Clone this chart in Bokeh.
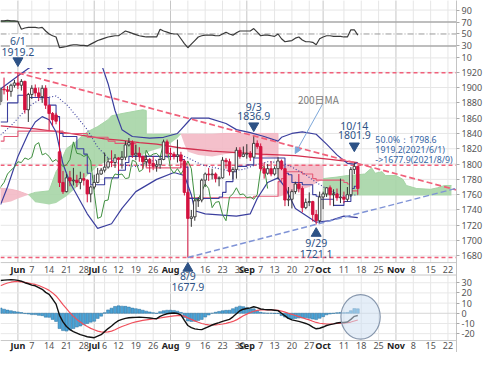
import numpy as np
import pandas as pd
from bokeh.plotting import figure
from bokeh.models import Range1d, FixedTicker, Label, Arrow, NormalHead
from bokeh.core.properties import value
from bokeh.embed import file_html
from bokeh.resources import INLINE

# ======================= DATA =======================
candle_first, candle_last = "2021-05-25", "2021-10-15"

opens = [1882,1898,1897,1895,1903,1906,1903,1908,1871,1891,
         1899,1893,1888,1899,1877,1866,1864,1816,1776,1764,
         1782,1778,1779,1776,1781,1779,1761,1770,1776,1787,
         1792,1796,1803,1802,1808,1806,1809,1825,1828,1812,
         1814,1810,1803,1806,1801,1797,1799,1806,1829,1814,
         1813,1810,1812,1804,1763,1729,1731,1752,1753,1779,
         1787,1786,1787,1781,1782,1805,1803,1790,1793,1818,
         1810,1813,1814,1809,1827,1823,1794,1788,1794,1787,
         1794,1804,1794,1753,1754,1764,1774,1768,1743,1750,
         1751,1734,1726,1757,1761,1769,1760,1761,1756,1757,
         1754,1760,1793,1797]
highs = [1900,1913,1902,1905,1910,1919.2,1911,1909,1893,1903,
         1904,1900,1903,1903,1877,1868,1867,1856,1791,1787,
         1791,1795,1786,1790,1788,1780,1772,1786,1795,1795,
         1815,1808,1818,1813,1809,1817,1830,1834,1831,1825,
         1822,1811,1812,1808,1810,1805,1810,1832,1832,1821,
         1816,1832,1816,1806,1767,1740,1754,1757,1781,1789,
         1795,1794,1789,1784,1809,1808,1807,1796,1822,1822,
         1823,1826,1817,1836.9,1831,1827,1802,1800,1804,1797,
         1809,1806,1795,1770,1767,1777,1787,1771,1755,1763,
         1752,1740,1764,1764,1770,1772,1767,1768,1781,1764,
         1770,1796,1801.9,1797]
lows = [1877,1891,1883,1888,1900,1898,1896,1866,1855,1885,
        1888,1883,1880,1872,1844,1850,1852,1770,1761,1763,
        1771,1772,1770,1767,1772,1750,1750,1767,1775,1786,
        1789,1794,1796,1795,1791,1794,1805,1823,1808,1805,
        1803,1794,1797,1789,1792,1790,1794,1805,1810,1805,
        1806,1802,1795,1759,1677.9,1718,1726,1744,1750,1770,
        1778,1780,1776,1771,1781,1794,1785,1780,1781,1807,
        1809,1807,1804,1808,1820,1791,1781,1786,1784,1785,
        1780,1792,1745,1745,1742,1761,1763,1737,1741,1745,
        1725,1721.1,1723,1741,1757,1746,1745,1752,1749,1749,
        1751,1757,1787,1760]
closes = [1898,1897,1895,1903,1906,1903,1908,1871,1891,1899,
          1893,1888,1899,1877,1866,1858,1856,1776,1764,1782,
          1778,1779,1776,1781,1779,1761,1770,1776,1787,1792,
          1796,1803,1802,1808,1806,1809,1825,1828,1812,1814,
          1810,1803,1806,1801,1797,1799,1806,1829,1814,1813,
          1810,1812,1804,1763,1729,1731,1752,1753,1779,1787,
          1786,1787,1781,1782,1805,1803,1790,1793,1818,1810,
          1813,1814,1809,1827,1823,1794,1788,1794,1787,1794,
          1804,1794,1753,1754,1764,1774,1768,1743,1750,1751,
          1734,1726,1757,1761,1769,1760,1761,1756,1757,1754,
          1760,1793,1797,1768]

rsi = [72,72,73,72,72,71,
       58,60,61,61,61,60,61,55,50,47,45,
       27,28,29,31,32,32,31,31,30,33,36,
       39,41,43,45,46,47,47,51,55,53,51,
       49,47,46,45,45,45,45,58,55,53,51,
       50,50,42,34,27,33,39,45,47,48,48,
       48,47,47,50,53,50,48,52,55,55,55,
       55,59,53,47,48,48,47,46,50,42,37,
       38,39,43,45,40,37,37,36,32,42,45,
       47,47,46,46,46,45,45,57,57,48]

macd = [32.2,32.5,32.8,33,32.8,32.3,
        31.5,30,29,27.7,27,25.3,23.5,20.5,18.5,14,9,
        -2,-8.5,-13,-16,-18,-19.5,-21,-22,-23,-23.5,-24,
        -22.5,-21,-18,-15,-12.5,-9.5,-7.2,-6,-5,-4.4,-4.2,
        -4,-3.8,-4,-4.3,-4.6,-5,-5.3,-3,-1.5,-0.5,0,
        0.3,-0.2,-1.5,-7,-12,-14,-15.3,-15.8,-16,-14.5,-13,
        -11.5,-10.3,-9.2,-8,-7,-6,-3.5,-0.5,2.5,4,4.7,
        5.3,6.4,5.5,4.2,3.8,3.5,3.4,3,2.6,0,-2.5,
        -5,-6.5,-7.2,-8,-9,-10,-11.4,-13.5,-15.2,-14.7,-13.5,
        -12,-11.2,-10.4,-9.5,-9,-9,-8.5,-6,-3,-2.2]
signal = [27,28.5,29.7,30.5,31,31,
          30.8,30.3,29.7,29,28.3,27.3,25.8,24.3,22.5,20,17,
          13,8.5,4.5,0.5,-3,-6,-8.5,-11,-13,-14.8,-16.2,
          -17.5,-18.2,-18.5,-18.3,-17.5,-16.2,-14.5,-13,-11.8,-10.5,-9.3,
          -8.5,-7.7,-7,-6.4,-5.9,-5.5,-5.2,-4.6,-4,-3.5,-3,
          -2.5,-2.3,-2.3,-2.8,-4.5,-6,-7.5,-8.8,-10,-10.8,-11.3,
          -11.5,-11.3,-11,-10.5,-9.9,-9,-8,-6.5,-4.5,-2.5,-0.8,
          0.8,2,2.8,3.3,3.4,3.5,3.4,3.2,2.8,2.2,1.2,
          0,-1,-2.2,-3.3,-4.4,-5.5,-6.5,-7.8,-9,-9.8,-10.2,
          -10.5,-10.5,-10.3,-10,-9.8,-9.6,-9.3,-8.6,-7.6,-6.6]
hist = [5.2,4,3.1,2.5,1.8,1.3,
        0.7,-0.3,-0.7,-1.3,-1.3,-2,-2.3,-3.8,-4,-6,-8,
        -15,-17,-17.5,-16.5,-15,-13.5,-12.5,-11,-10,-8.7,-7.8,
        -5,-2.8,0.5,3.3,5,6.7,7.3,7,6.8,6.1,5.1,
        4.5,3.9,3,2.1,1.3,0.5,-0.1,1.6,2.5,3,3,
        2.8,2.1,0.8,-4.2,-7.5,-8,-7.8,-7,-6,-3.7,-1.7,
        0,1,1.8,2.5,2.9,3,4.5,6,7,6.5,5.5,
        4.5,4.4,2.7,0.9,0.4,0,0,-0.2,-0.2,-2.2,-3.7,
        -5,-5.5,-5,-4.7,-4.6,-4.5,-4.9,-5.7,-6.2,-4.9,-3.3,
        -1.5,-0.7,-0.1,0.5,0.8,0.6,0.8,2.6,4.6,4.4]

# sparse indicator readings ("MM-DD", value)
bb_up_d = ["05-25","05-27","06-01","06-04","06-08","06-10","06-14","06-16","06-17","06-21",
           "06-24","06-29","07-02","07-07","07-09","07-13","07-16","07-23","07-29","08-04",
           "08-05","08-09","08-10","08-17","08-24","08-27","09-02","09-08","09-14","09-15",
           "09-20","09-23","09-29","10-04","10-07","10-12","10-14","10-15"]
bb_up_v = [1898,1905,1915,1925,1930,1932,1924,1928,1940,1955,
           1962,1960,1945,1905,1870,1845,1836,1834,1835,1840,
           1845,1855,1860,1860,1853,1845,1841,1836,1830,1835,
           1840,1842,1839,1826,1812,1801,1800,1802]
bb_lo_d = ["05-25","05-27","06-01","06-04","06-08","06-10","06-14","06-16","06-18","06-22",
           "06-29","07-02","07-08","07-13","07-19","07-27","08-03","08-06","08-10","08-11",
           "08-16","08-27","09-02","09-06","09-09","09-14","09-16","09-21","09-29","10-05",
           "10-11","10-15"]
bb_lo_v = [1747,1770,1810,1840,1855,1862,1858,1842,1800,1776,
           1735,1716,1722,1742,1764,1780,1789,1785,1760,1739,
           1735,1732,1735,1755,1776,1782,1770,1742,1724,1726,
           1732,1730]
ma20_d = ["05-25","05-28","06-02","06-07","06-10","06-16","06-21","06-24","06-29","07-02",
          "07-07","07-13","07-19","07-23","07-29","08-05","08-10","08-13","08-19","08-25",
          "08-31","09-03","09-09","09-15","09-20","09-24","09-29","10-05","10-11","10-15"]
ma20_v = [1838,1850,1865,1878,1886,1889,1878,1862,1845,1822,
          1808,1799,1797,1803,1808,1812,1806,1799,1795,1791,
          1793,1798,1803,1802,1796,1786,1776,1765,1758,1760]
ma200_d = ["05-25","06-08","06-22","07-06","07-13","07-20","07-27","08-05","08-18","08-27",
           "09-07","09-21","10-05","10-15"]
ma200_v = [1850,1846,1840,1833,1831,1828,1826,1821,1817,1815,1813,1811,1806,1802]
kijun_d = ["05-25","05-26","06-01","06-18","06-29","07-07","07-09","07-19","07-20","07-22",
           "08-05","08-09","09-03","09-14","09-15","09-16","09-23","09-28","09-29","10-11",
           "10-12","10-13","10-15"]
kijun_v = [1830,1836,1843,1840,1835,1830,1827,1814,1809,1795,
           1800,1756,1758,1777,1781,1790,1787,1781,1779,1776,
           1774,1765,1765]
tenkan_d = ["05-25","05-27","06-01","06-04","06-14","06-16","06-17","06-18","06-24","06-28",
            "06-29","06-30","07-06","07-12","07-14","07-15","08-05","08-06","08-09","08-20",
            "08-23","08-24","08-26","08-27","09-01","09-03","09-16","09-17","09-20","09-23",
            "09-28","09-29","09-30","10-06","10-11","10-13","10-14","10-15"]
tenkan_v = [1855,1880,1890,1887,1877,1862,1840,1836,1820,1813,
            1788,1773,1782,1792,1802,1810,1806,1796,1755,1757,
            1763,1777,1790,1797,1799,1808,1788,1786,1776,1773,
            1760,1758,1754,1746,1751,1768,1771,1771]

# Ichimoku cloud (leading spans), read as top / bottom edges
pink1_d = ["05-24","05-28","06-01","06-04"]
pink1_top = [1769,1767,1765,1760]
pink1_bot = [1748,1751,1755,1760]
green1_d = ["06-04","06-08","06-14","06-16","06-17","06-18","06-21","06-24","06-25","06-29",
            "07-02","07-07","07-08","07-13","07-21","07-22","07-22","07-30","08-04","08-05"]
green1_top = [1760,1763,1765,1790,1797,1810,1820,1830,1835,1842,
              1849,1858,1863,1866,1871,1870,1839,1839,1839,1839]
green1_bot = [1760,1750,1747,1749,1752,1755,1758,1770,1775,1785,
              1797,1805,1806,1808,1812,1815,1815,1824,1834,1839]
pink2_d = ["08-05","08-06","08-09","08-12","08-18","08-24","08-30","09-03","09-08","09-14",
           "09-14","09-21","09-27","10-01"]
pink2_top = [1839,1839,1839,1839,1839,1840,1840,1840,1840,1840,
             1798.6,1798.6,1798.6,1798.6]
pink2_bot = [1839,1826,1816,1812,1810,1813,1815,1813,1810,1808,
             1757,1764,1770,1780]
green2_d = ["10-01","10-07","10-12","10-15","10-19","10-21","10-22","10-26","10-27","11-01",
            "11-03","11-04","11-09","11-15","11-17","11-19","11-23"]
green2_top = [1781,1783,1785,1786,1787,1795,1788,1790,1785,1785,
              1780,1772,1768,1767,1769,1772,1772]
green2_bot = [1759]*17

# marked highs / lows
high_a = ("06-01", 1919.2)
high_b = ("09-03", 1836.9)
high_c = ("10-14", 1801.9)
low_a = ("08-09", 1677.9)
low_b = ("09-29", 1721.1)
fib_level = 1798.6

# x-axis ticks
tick_d = ["06-01","06-07","06-14","06-21","06-28","07-01","07-06","07-12","07-19","07-26",
          "08-02","08-09","08-16","08-23","08-30","09-01","09-07","09-13","09-20","09-27",
          "10-01","10-11","10-18","10-25","11-01","11-08","11-15","11-22"]
tick_lab = ["Jun","7","14","21","28","Jul","6","12","19","26",
            "Aug","9","16","23","30","Sep","7","13","20","27",
            "Oct","11","18","25","Nov","8","15","22"]
rsi_ticks = [90, 70, 50, 30, 10]
price_ticks = [1920,1900,1880,1860,1840,1820,1800,1780,1760,1740,1720,1700,1680]
macd_ticks = [30, 20, 10, 0, -10, -20]

# ======================= LAYOUT =======================
cal = pd.bdate_range("2021-05-24", "2021-11-30")
POS = {d.strftime("%m-%d"): i - 1 for i, d in enumerate(cal)}   # 05-25 -> 0
def X(ds):
    return [POS[d] for d in ds]

days = pd.bdate_range(candle_first, candle_last)
cx = np.array([POS[d.strftime("%m-%d")] for d in days], dtype=float)
assert len(cx) == len(opens) == len(highs) == len(lows) == len(closes) == len(rsi) == len(macd) == len(signal) == len(hist)

REF_W, REF_H = 472.0, 368.0          # reference frame size in px (incl. bottom label row)
FRAME_W, FRAME_H = 456, 352
XR0, XR1 = -0.02, 131.46
def rng(v_at, y_at, ppu):
    return (v_at - (REF_H - y_at) / ppu, v_at + y_at / ppu)
P0, P1 = rng(1680, 267, 0.8)         # price band
R0, R1 = rng(0, 66.25, 0.625)        # RSI band
M0, M1 = rng(0, 327, 1.065)          # MACD band
def py(yref):   # reference pixel row -> default (price) units
    return P1 - yref * (P1 - P0) / REF_H
def px(xref):
    return XR0 + xref * (XR1 - XR0) / REF_W
def r2p(r):
    return round(P0 + (r - R0) * (P1 - P0) / (R1 - R0), 4)
def m2p(m):
    return round(P0 + (m - M0) * (P1 - P0) / (M1 - M0), 4)

FONT = "Noto Sans"
ANN = "#2d5286"
NAVY = "#3b3f9e"
RED_DASH = "#f0607a"

p = figure(frame_width=FRAME_W, frame_height=FRAME_H, x_range=Range1d(XR0, XR1),
           y_range=Range1d(P0, P1), y_axis_location="right",
           output_backend="svg", toolbar_location=None, min_border=0)
p.extra_y_ranges = {"rsi": Range1d(R0, R1), "macd": Range1d(M0, M1)}
p.grid.visible = False
p.xaxis.visible = False
p.outline_line_color = None
p.background_fill_color = "white"
p.border_fill_color = "white"

tx = X(tick_d)
is_month = [lab.isalpha() for lab in tick_lab]
vcol = ["#c6c6c6" if m else "#e6e6e6" for m in is_month]
y_bot = py(355.5)

# --- vertical grid (down to the MACD bottom) & main horizontal grid
p.segment(x0=tx, x1=tx, y0=[y_bot]*len(tx), y1=[P1]*len(tx), line_color=vcol, line_width=1)
p.segment(x0=[XR0]*len(price_ticks), x1=[XR1]*len(price_ticks), y0=price_ticks, y1=price_ticks,
          line_color="#e6e6e6", line_width=1)

# --- Ichimoku cloud
for d, t, b, c in [(pink1_d, pink1_top, pink1_bot, "#f3b9c5"),
                   (green1_d, green1_top, green1_bot, "#a6d5a6"),
                   (pink2_d, pink2_top, pink2_bot, "#f3b9c5"),
                   (green2_d, green2_top, green2_bot, "#a6d5a6")]:
    p.varea(x=X(d), y1=b, y2=t, fill_color=c, fill_alpha=0.9)
    p.line(X(d), t, line_color=c, line_width=1)

# --- horizontal levels
for lvl in [high_a[1], fib_level, low_a[1]]:
    p.segment(x0=[XR0], x1=[XR1], y0=[lvl], y1=[lvl], line_color=RED_DASH,
              line_width=1.5, line_dash="4 3")

# --- indicator lines
p.line(X(ma200_d), ma200_v, line_color="#d2304f", line_width=1.3)
p.step(X(kijun_d), kijun_v, mode="after", line_color="#e35a76", line_width=1.1)
p.step(X(tenkan_d), tenkan_v, mode="after", line_color=NAVY, line_width=1.1)
p.line(X(ma20_d), ma20_v, line_color=NAVY, line_width=1.1, line_dash="1 2")
p.line(X(bb_up_d), bb_up_v, line_color=NAVY, line_width=1.2)
p.line(X(bb_lo_d), bb_lo_v, line_color=NAVY, line_width=1.2)
p.line(cx - 26, closes, line_color="#3f8f3f", line_width=1.0)   # lagging span

# --- candles
o = np.array(opens); c_ = np.array(closes); h = np.array(highs); l = np.array(lows)
up = c_ >= o
dn = ~up
p.segment(x0=cx[up], x1=cx[up], y0=l[up], y1=h[up], line_color="#333333", line_width=1)
p.segment(x0=cx[dn], x1=cx[dn], y0=l[dn], y1=h[dn], line_color="#d4123f", line_width=1)
p.vbar(x=cx[up], bottom=o[up], top=c_[up], width=0.72, fill_color="white", line_color="#333333", line_width=0.9)
p.vbar(x=cx[dn], bottom=c_[dn], top=o[dn], width=0.72, fill_color="#d4123f", line_color="#d4123f", line_width=0.9)

# --- trend lines
xa, xb = POS[high_a[0]], POS[high_b[0]]
s_hi = (high_b[1] - high_a[1]) / (xb - xa)
p.line([xa, XR1], [high_a[1], high_a[1] + s_hi * (XR1 - xa)], line_color=RED_DASH,
       line_width=1.7, line_dash="6 3")
xl, xm = POS[low_a[0]], POS[low_b[0]]
s_lo = (low_b[1] - low_a[1]) / (xm - xl)
p.line([xl, XR1], [low_a[1], low_a[1] + s_lo * (XR1 - xl)], line_color="#7f93d6",
       line_width=1.5, line_dash="6 3")

# --- RSI panel (covers the top band)
top_edge = py(70.5)
p.quad(left=[XR0], right=[XR1], bottom=[top_edge], top=[P1], fill_color="white", line_color=None)
p.segment(x0=tx, x1=tx, y0=[top_edge]*len(tx), y1=[P1]*len(tx), line_color=vcol, line_width=1)
for lv, col, w, dash in [(90, "#e6e6e6", 1, "solid"), (10, "#e6e6e6", 1, "solid"),
                         (70, "#a9a9a9", 1.6, "solid"), (30, "#a9a9a9", 1.6, "solid"),
                         (50, "#9a9a9a", 1, "6 2 1 2")]:
    p.segment(x0=[XR0], x1=[XR1], y0=[lv], y1=[lv], y_range_name="rsi",
              line_color=col, line_width=w, line_dash=dash)
rsi_a = np.array(rsi, dtype=float)
p.varea(x=cx, y1=[70]*len(cx), y2=np.maximum(rsi_a, 70), y_range_name="rsi",
        fill_color="#557a55", fill_alpha=0.95)
p.line(cx, rsi_a, y_range_name="rsi", line_color="#3a3a3a", line_width=1.2)

# --- label gap between the price panel and the MACD panel
p.quad(left=[XR0], right=[XR1], bottom=[py(287)], top=[py(274)], fill_color="white", line_color=None)
p.segment(x0=[XR0]*3, x1=[XR1]*3, y0=[py(274), py(287), y_bot], y1=[py(274), py(287), y_bot],
          line_color="#c8c8c8", line_width=1)
dx = [x for x, m in zip(tx, is_month) if not m]
dl = [t for t, m in zip(tick_lab, is_month) if not m]
mx = [x for x, m in zip(tx, is_month) if m]
ml = [t for t, m in zip(tick_lab, is_month) if m]
for row_y in [py(281), py(361)]:
    p.text(x=dx, y=[row_y]*len(dx), text=dl, text_align="center", text_baseline="middle",
           text_font=value(FONT), text_font_size="9px", text_color="#555555")
    p.text(x=mx, y=[row_y]*len(mx), text=ml, text_align="center", text_baseline="middle",
           text_font=value(FONT), text_font_size="9px", text_font_style="bold", text_color="#222222")

# --- MACD panel
for lv in macd_ticks:
    p.segment(x0=[XR0], x1=[XR1], y0=[lv], y1=[lv], y_range_name="macd",
              line_color="#d6d6d6" if lv == 0 else "#e8e8e8", line_width=1)
p.vbar(x=cx, bottom=0, top=hist, width=0.85, y_range_name="macd",
       fill_color="#4ba3d6", line_color="#2a6e9c", line_width=0.5)
p.line(cx, signal, y_range_name="macd", line_color="#f0505c", line_width=1.2)
p.line(cx, macd, y_range_name="macd", line_color="#111111", line_width=1.4)
p.ellipse(x=[px(372.7)], y=[-3.5], width=[px(40.7) - px(0)], height=[43.8], y_range_name="macd",
          fill_color="#cfe0f3", fill_alpha=0.55, line_color="#8797ad", line_width=1.2)

# --- markers for highs / lows
p.scatter(x=[POS[high_a[0]]], y=[py(63)], marker="inverted_triangle", size=10, color=ANN)
p.scatter(x=[POS[high_b[0]], POS[high_c[0]]], y=[py(131), py(152)],
          marker="inverted_triangle", size=10, color=ANN)
p.scatter(x=[POS[low_a[0]], POS[low_b[0]]], y=[py(280), py(243.5)],
          marker="triangle", size=10, color=ANN)

def label(x, y, text, size="10.5px", color=ANN, align="center", bg=None, font=FONT, bold=False):
    lb = Label(x=x, y=y, text=text, text_align=align, text_baseline="middle",
               text_font_size=size, text_color=color, text_font=font,
               text_font_style="bold" if bold else "normal",
               background_fill_color=bg)
    p.add_layout(lb)

def fmt(v):
    return f"{v:.1f}"

label(POS[high_a[0]], py(42.5), "6/1", bg="white")
label(POS[high_a[0]], py(53.5), fmt(high_a[1]), bg="white")
label(POS[high_b[0]], py(111), "9/3")
label(POS[high_b[0]], py(121), fmt(high_b[1]))
label(POS[high_c[0]], py(131), "10/14")
label(POS[high_c[0]], py(141), fmt(high_c[1]))
label(POS[low_a[0]], py(288), "8/9")
label(POS[low_a[0]], py(299), fmt(low_a[1]))
label(POS[low_b[0]], py(253), "9/29")
label(POS[low_b[0]], py(265), fmt(low_b[1]))

fib_col = "#3465a4"
label(px(388), py(146), f"50.0%：{fib_level:.1f}", size="8.8px", color=fib_col, align="left")
label(px(388), py(156.5), f"{high_a[1]:.1f}(2021/6/1)", size="8.8px", color=fib_col, align="left")
label(px(388), py(167), f"->{low_a[1]:.1f}(2021/8/9)", size="8.8px", color=fib_col, align="left")

label(px(329), py(104), "200日MA", size="10px", color="#7a7a7a", font="Noto Sans CJK JP")
p.add_layout(Arrow(end=NormalHead(size=6, fill_color="#7da7d9", line_color="#7da7d9"),
                   x_start=px(333), y_start=py(109), x_end=px(305), y_end=py(160),
                   line_color="#7da7d9", line_width=1))

# --- right axis (one axis, three bands)
yt = [r2p(r) for r in rsi_ticks] + [float(v) for v in price_ticks] + [m2p(m) for m in macd_ticks]
ylab = [str(r) for r in rsi_ticks] + [str(v) for v in price_ticks] + [str(m) for m in macd_ticks]
p.yaxis.ticker = FixedTicker(ticks=yt)
p.yaxis.major_label_overrides = {t: s for t, s in zip(yt, ylab)}
p.yaxis.major_label_text_font = FONT
p.yaxis.major_label_text_font_size = "9px"
p.yaxis.major_label_text_color = "#555555"
p.yaxis.major_tick_out = 3
p.yaxis.major_tick_in = 0
p.yaxis.major_tick_line_color = "#aaaaaa"
p.yaxis.axis_line_color = "#c4c4c4"
p.yaxis.major_label_standoff = 2

open("out.html", "w").write(file_html(p, INLINE))
